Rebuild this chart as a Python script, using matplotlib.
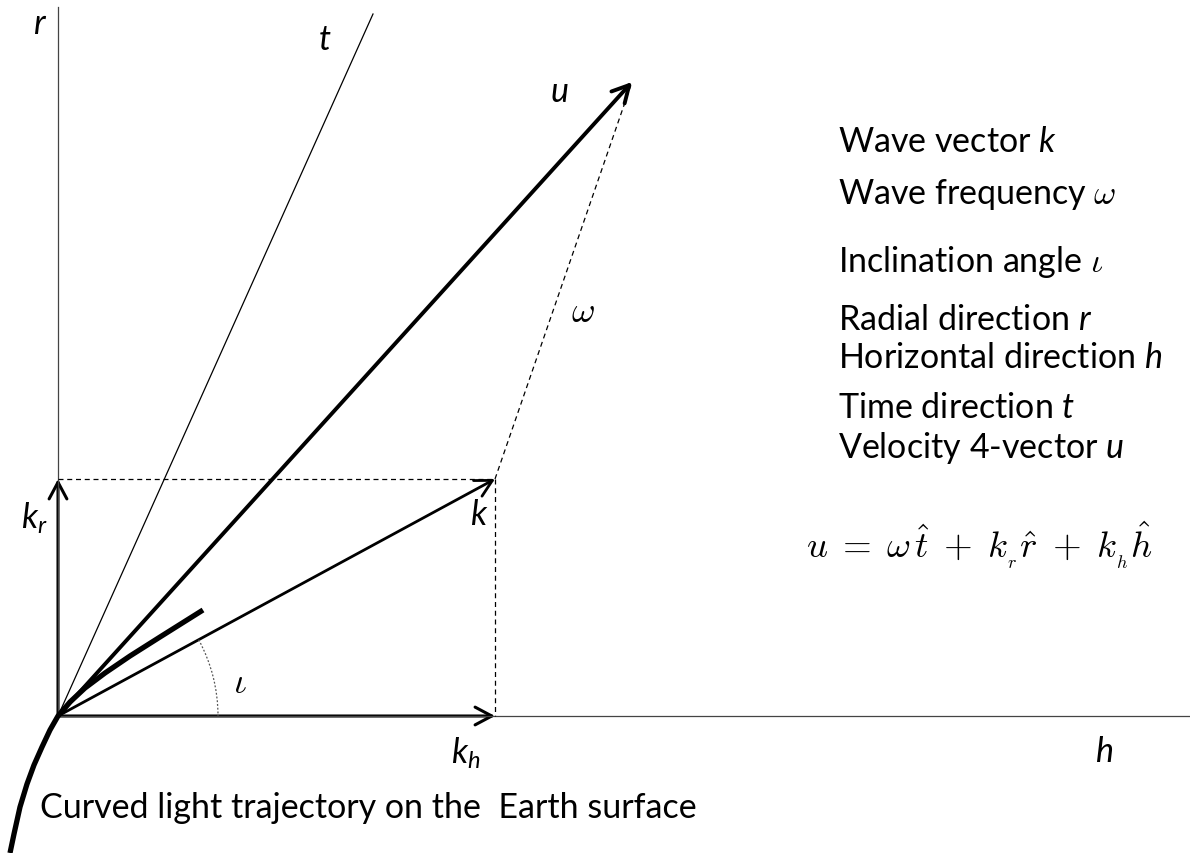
import matplotlib
matplotlib.use('Agg')
import matplotlib.pyplot as plt
import numpy as np
from matplotlib.patches import FancyArrowPatch, Arc

# geometry of the diagram, in pixel units (y grows downward)
origin = (58, 717)
k_tip = (495, 480)          # wave vector k = (k_h, k_r)
u_tip = (632, 83)           # velocity 4-vector u
t_end = (373, 15)           # time direction t
r_top = 8
h_end = 1190
arc_radius = 160            # inclination angle marker

# curved light trajectory
curve_x = [10, 14, 20, 27, 34, 42, 50, 58, 70, 85, 105, 130, 160, 203]
curve_y = [854, 835, 808, 785, 766, 748, 731, 717, 703, 689, 674, 657, 638, 611]

legend_lines = [
    ('Wave vector $k$', 152, 'custom'),
    (r'Wave frequency $\omega$', 204, 'cm'),
    (r'Inclination angle $\iota$', 272, 'cm'),
    ('Radial direction $r$', 330, 'custom'),
    ('Horizontal direction $h$', 368, 'custom'),
    ('Time direction $t$', 418, 'custom'),
    ('Velocity 4-vector $u$', 458, 'custom'),
]
formula = r'$u\;=\;\omega\,\hat{t}\;+\;k_{_r}\hat{r}\;+\;k_{_h}\hat{h}$'

plt.rcParams['font.family'] = ['Lato', 'DejaVu Sans']
plt.rcParams['mathtext.fontset'] = 'custom'
plt.rcParams['mathtext.rm'] = 'Lato'
plt.rcParams['mathtext.it'] = 'Lato:italic'

fig = plt.figure(figsize=(11.9, 8.54), dpi=100)
ax = fig.add_axes([0, 0, 1, 1])
ax.set_xlim(0, 1190)
ax.set_ylim(854, 0)
ax.axis('off')

ox, oy = origin
kx, ky = k_tip

# thin axes
ax.plot([ox, ox], [oy, r_top], color='#444444', lw=0.9)
ax.plot([ox, h_end], [oy, oy], color='#444444', lw=0.9)
ax.plot([ox, t_end[0]], [oy, t_end[1]], color='black', lw=0.9)

# dashed construction lines
dash = dict(color='black', lw=0.9, ls=(0, (4, 3)))
ax.plot([ox, kx], [ky, ky], **dash)
ax.plot([kx, kx], [ky, oy], **dash)
ax.plot([kx, u_tip[0]], [ky, u_tip[1]], **dash)

def arrow(p0, p1, lw):
    ax.add_patch(FancyArrowPatch(p0, p1, arrowstyle='->,head_length=0.6,head_width=0.32',
                                 mutation_scale=20, lw=lw, color='black',
                                 shrinkA=0, shrinkB=0, capstyle='round'))

arrow(origin, (ox, ky), 2.2)
arrow(origin, (kx, oy), 2.2)
arrow(origin, k_tip, 2.0)
arrow(origin, u_tip, 2.8)

# trajectory
ax.plot(curve_x, curve_y, color='black', lw=3.8, solid_capstyle='butt')

# inclination angle arc
ang = np.degrees(np.arctan2(oy - ky, kx - ox))
ax.add_patch(Arc(origin, 2 * arc_radius, 2 * arc_radius, theta1=-ang, theta2=0,
                 color='#555555', lw=0.9, ls=(0, (1.5, 1.5))))

# labels
fs = 24.5
lab = dict(fontsize=fs, style='italic', ha='center', va='center')
ax.text(40, 24, 'r', **lab)
ax.text(325, 40, 't', **lab)
ax.text(560, 92, 'u', **lab)
ax.text(478, 515, 'k', **lab)
ax.text(1105, 752, 'h', **lab)
ax.text(34, 518, '$k_r$', fontsize=fs, ha='center', va='center')
ax.text(466, 753, '$k_h$', fontsize=fs, ha='center', va='center')
ax.text(583, 312, r'$\omega$', fontsize=26, ha='center', va='center', math_fontfamily='cm')
ax.text(240, 683, r'$\iota$', fontsize=26, ha='center', va='center', math_fontfamily='cm')
ax.text(40, 808, 'Curved light trajectory on the  Earth surface', fontsize=fs,
        ha='left', va='center')

for txt, y, mf in legend_lines:
    ax.text(838, y, txt, fontsize=fs, ha='left', va='baseline', math_fontfamily=mf)

ax.text(806, 545, formula, fontsize=26.5, ha='left', va='center', math_fontfamily='cm')

fig.savefig('out.png', dpi=100)
